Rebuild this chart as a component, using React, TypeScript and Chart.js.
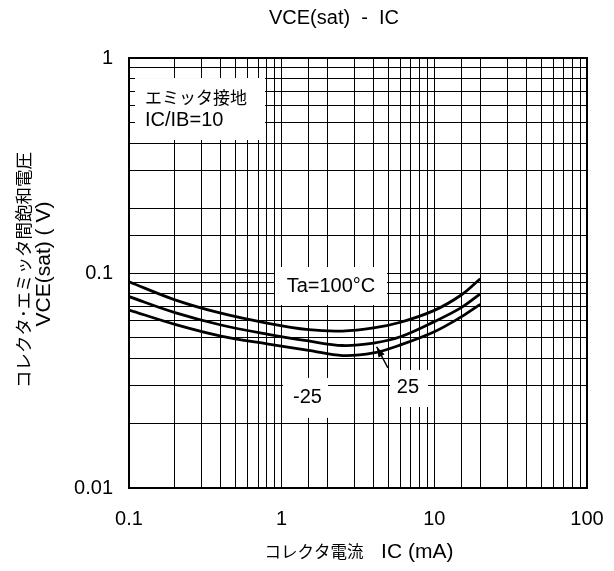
import { useEffect, useRef } from 'react';
import { Chart, registerables } from 'chart.js';

Chart.register(...registerables);

// ---- data ----
const IC_MA = [0.1, 0.2, 0.4, 0.8, 1.5, 2.5, 4, 6, 10, 15, 20];
const VCE_TA100 = [0.091, 0.075, 0.065, 0.0585, 0.0545, 0.0537, 0.0555, 0.059, 0.067, 0.079, 0.094];
const VCE_TA25 = [0.0776, 0.0654, 0.0573, 0.052, 0.0483, 0.046, 0.0472, 0.0505, 0.0594, 0.069, 0.08];
const VCE_TAM25 = [0.0673, 0.0577, 0.0509, 0.0468, 0.0437, 0.0413, 0.0425, 0.0463, 0.0533, 0.0625, 0.0715];

const X_TICK_VALUES = [0.1, 1, 10, 100];
const X_TICK_LABELS = ['0.1', '1', '10', '100'];
const Y_TICK_VALUES = [0.01, 0.1, 1];
const Y_TICK_LABELS = ['0.01', '0.1', '1'];

const CHART_TITLE = 'VCE(sat)  -  IC';
const X_TITLE_JP = 'コレクタ電流';
const X_TITLE_EN = '   IC (mA)';
const Y_TITLE_JP = 'コレクタ･エミッタ間飽和電圧';
const Y_TITLE_EN = 'VCE(sat) ( V)';

// annotation boxes (data coordinates) and their texts
const NOTE_BOXES = [
  { x0: 0.1095, x1: 0.778, y0: 0.4155, y1: 0.807 },
  { x0: 0.904, x1: 4.9, y0: 0.071, y1: 0.1066 },
  { x0: 1.02, x1: 2.012, y0: 0.0212, y1: 0.0325 },
  { x0: 5.124, x1: 9.09, y0: 0.0238, y1: 0.0354 },
];
const NOTE_TEXTS = [
  { text: 'エミッタ接地', x: 0.1273, y: 0.6516, align: 'left', jp: true },
  { text: 'IC/IB=10', x: 0.1273, y: 0.5148, align: 'left', jp: false },
  { text: 'Ta=100°C', x: 2.104, y: 0.087, align: 'center', jp: false },
  { text: '-25', x: 1.476, y: 0.02636, align: 'center', jp: false },
  { text: '25', x: 6.72, y: 0.02933, align: 'center', jp: false },
];
const ARROW = { fromX: 4.97, fromY: 0.03615, toX: 4.19, toY: 0.0454 };

const LATIN = "'Liberation Sans', Arial, 'Noto Sans CJK JP', sans-serif";
const JP = "'Noto Sans CJK JP', 'Liberation Sans', sans-serif";

function pickLabel(values: number[], labels: string[]) {
  return (value: number | string) => {
    const v = Number(value);
    const i = values.findIndex((t) => Math.abs(t - v) / t < 1e-6);
    return i >= 0 ? labels[i] : '';
  };
}

function drawRuns(ctx: CanvasRenderingContext2D, runs: { text: string; font: string }[], cx: number, cy: number, angle: number) {
  ctx.save();
  ctx.translate(cx, cy);
  ctx.rotate(angle);
  ctx.textAlign = 'left';
  ctx.textBaseline = 'middle';
  let total = 0;
  const widths = runs.map((r) => {
    ctx.font = r.font;
    const w = ctx.measureText(r.text).width;
    total += w;
    return w;
  });
  let x = -total / 2;
  runs.forEach((r, i) => {
    ctx.font = r.font;
    ctx.fillText(r.text, x, 0);
    x += widths[i];
  });
  ctx.restore();
}

const notesPlugin = {
  id: 'notes',
  beforeDatasetsDraw(chart: any) {
    const { ctx, scales } = chart;
    const x = scales.x;
    const y = scales.y;
    ctx.save();
    ctx.fillStyle = '#ffffff';
    for (const b of NOTE_BOXES) {
      const l = x.getPixelForValue(b.x0);
      const r = x.getPixelForValue(b.x1);
      const t = y.getPixelForValue(b.y1);
      const bt = y.getPixelForValue(b.y0);
      ctx.fillRect(l, t, r - l, bt - t);
    }
    ctx.restore();
  },
  afterDatasetsDraw(chart: any) {
    const { ctx, scales, chartArea } = chart;
    const x = scales.x;
    const y = scales.y;
    ctx.save();
    ctx.fillStyle = '#000';
    ctx.textBaseline = 'middle';
    for (const n of NOTE_TEXTS) {
      ctx.font = n.jp ? `17px ${JP}` : `20px ${LATIN}`;
      ctx.textAlign = n.align;
      ctx.fillText(n.text, x.getPixelForValue(n.x), y.getPixelForValue(n.y));
    }
    // arrow
    const fx = x.getPixelForValue(ARROW.fromX);
    const fy = y.getPixelForValue(ARROW.fromY);
    const tx = x.getPixelForValue(ARROW.toX);
    const ty = y.getPixelForValue(ARROW.toY);
    ctx.strokeStyle = '#000';
    ctx.lineWidth = 1.5;
    ctx.beginPath();
    ctx.moveTo(fx, fy);
    ctx.lineTo(tx, ty);
    ctx.stroke();
    const ang = Math.atan2(ty - fy, tx - fx);
    const hl = 11;
    const hw = 0.32;
    ctx.beginPath();
    ctx.moveTo(tx, ty);
    ctx.lineTo(tx - hl * Math.cos(ang - hw), ty - hl * Math.sin(ang - hw));
    ctx.lineTo(tx - hl * Math.cos(ang + hw), ty - hl * Math.sin(ang + hw));
    ctx.closePath();
    ctx.fill();
    // frame
    ctx.lineWidth = 2;
    ctx.strokeRect(chartArea.left, chartArea.top, chartArea.right - chartArea.left, chartArea.bottom - chartArea.top);
    ctx.restore();

    // titles
    ctx.save();
    ctx.fillStyle = '#000';
    const midX = (chartArea.left + chartArea.right) / 2;
    const midY = (chartArea.top + chartArea.bottom) / 2;
    drawRuns(ctx, [{ text: CHART_TITLE, font: `20px ${LATIN}` }], midX - 24, chartArea.top - 40, 0);
    drawRuns(
      ctx,
      [
        { text: X_TITLE_JP, font: `16.5px ${JP}` },
        { text: X_TITLE_EN, font: `21px ${LATIN}` },
      ],
      midX + 1,
      chartArea.bottom + 64,
      0
    );
    drawRuns(ctx, [{ text: Y_TITLE_JP, font: `17.5px ${JP}` }], chartArea.left - 106, midY - 3, -Math.PI / 2);
    drawRuns(ctx, [{ text: Y_TITLE_EN, font: `21px ${LATIN}` }], chartArea.left - 85, midY - 9, -Math.PI / 2);
    ctx.restore();
  },
};

export default function App() {
  const ref = useRef<HTMLCanvasElement | null>(null);

  useEffect(() => {
    if (!ref.current) return;
    const mk = (vals: number[]) => IC_MA.map((v, i) => ({ x: v, y: vals[i] }));
    const ds = (label: string, vals: number[]) => ({
      label,
      data: mk(vals),
      borderColor: '#000',
      borderWidth: 2.8,
      pointRadius: 0,
      tension: 0.35,
      fill: false,
    });
    const chart = new Chart(ref.current, {
      type: 'line',
      data: {
        datasets: [ds('Ta=100°C', VCE_TA100), ds('25', VCE_TA25), ds('-25', VCE_TAM25)],
      },
      options: {
        animation: false,
        responsive: true,
        maintainAspectRatio: false,
        layout: { padding: { top: 58, right: 27, left: 0, bottom: 0 } },
        plugins: { legend: { display: false }, tooltip: { enabled: false }, title: { display: false } },
        scales: {
          x: {
            type: 'logarithmic',
            min: 0.1,
            max: 100,
            afterFit: (s: any) => {
              s.height = 83;
              s.paddingLeft = 0;
              s.paddingRight = 0;
            },
            border: { display: false },
            grid: { color: '#000', lineWidth: 1, drawTicks: false },
            ticks: {
              autoSkip: false,
              maxRotation: 0,
              padding: 19,
              color: '#000',
              font: { family: LATIN, size: 20 },
              callback: pickLabel(X_TICK_VALUES, X_TICK_LABELS),
            },
            title: { display: false },
          },
          y: {
            type: 'logarithmic',
            min: 0.01,
            max: 1,
            afterFit: (s: any) => {
              s.width = 129;
              s.paddingTop = 0;
              s.paddingBottom = 0;
            },
            border: { display: false },
            grid: { color: '#000', lineWidth: 1, drawTicks: false },
            ticks: {
              autoSkip: false,
              padding: 16,
              color: '#000',
              font: { family: LATIN, size: 20 },
              callback: pickLabel(Y_TICK_VALUES, Y_TICK_LABELS),
            },
            title: { display: false },
          },
        },
      },
      plugins: [notesPlugin],
    });
    return () => chart.destroy();
  }, []);

  return (
    <div style={{ position: 'absolute', left: 0, top: 0, width: 614, height: 571, background: '#fff' }}>
      <canvas ref={ref} />
    </div>
  );
}
